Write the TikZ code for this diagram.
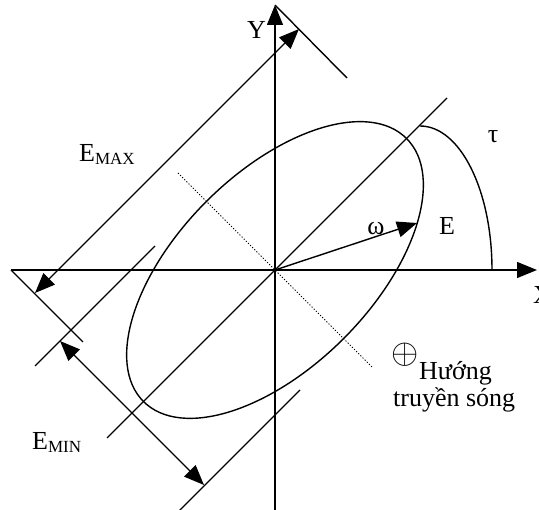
\documentclass[tikz,border=0pt]{standalone}
\usepackage{fontspec}
\usepackage{graphicx}
\setmainfont{Liberation Serif}
\usetikzlibrary{arrows.meta}
\begin{document}
\begin{tikzpicture}[x=1pt,y=-1pt,
  ln/.style={line width=1.4pt},
  arr/.style={ln,-{Triangle[length=20pt,width=16pt]}},
  darr/.style={ln,{Triangle[length=20pt,width=16pt]}-{Triangle[length=20pt,width=16pt]}},
  dot/.style={line width=0.8pt,dash pattern=on 1.2pt off 1.8pt},
  lbl/.style={inner sep=0pt,font=\fontsize{26}{30}\selectfont}]
\useasboundingbox (0,0) rectangle (539,510);
% key points
\coordinate (O) at (275,270);
\coordinate (Ytop) at (275,5);
\coordinate (Ybot) at (275,512);
\coordinate (Xl) at (11,270);
\coordinate (Xr) at (537,270);
\coordinate (M1) at (107,438);
\coordinate (M2) at (447,98);
\coordinate (D1) at (178,173);
\coordinate (D2) at (372,367);
\coordinate (P1) at (347,78);
\coordinate (P2) at (83,342);
\coordinate (A1) at (299,29);
\coordinate (A2) at (35,293);
\coordinate (L1a) at (155,246);
\coordinate (L1b) at (35,366);
\coordinate (L2a) at (300,390);
\coordinate (L2b) at (178,512);
\coordinate (B1) at (60,341);
\coordinate (B2) at (204,485);
\coordinate (W) at (417,223);
\coordinate (T1) at (420,126);
\coordinate (T2) at (492,270);
% axes
\draw[arr] (Ybot) -- (Ytop);
\draw[arr] (Xl) -- (Xr);
% major axis line and dotted minor axis
\draw[ln] (M1) -- (M2);
\draw[dot] (D1) -- (D2);
% ellipse
\draw[ln,rotate around={45:(O)}] (O) ellipse [x radius=186, y radius=97];
% E_MAX bounds and arrow
\draw[ln] (Ytop) -- (P1);
\draw[ln] (Xl) -- (P2);
\draw[darr] (A2) -- (A1);
% E_MIN bounds and arrow
\draw[ln] (L1a) -- (L1b);
\draw[ln] (L2a) -- (L2b);
\draw[darr] (B1) -- (B2);
% omega vector
\draw[arr] (O) -- (W);
% tau arc
\draw[ln] (T1) .. controls (460,126) and (492,190) .. (T2);
% labels
\node[lbl,anchor=base west] (emax) at (79,162) {E{\fontsize{17}{17}\selectfont\raisebox{-3pt}{MAX}}};
\node[lbl,anchor=base west] (emin) at (32,450) {E{\fontsize{17}{17}\selectfont\raisebox{-3pt}{MIN}}};
\node[lbl,anchor=base] (tau) at (493,143) {τ};
\node[lbl,anchor=base west] (E) at (439,235) {E};
\node[lbl,anchor=base] (om) at (376,235) {ω};
\node[lbl,anchor=base west] (ylab) at (247,39) {Y};
\node[lbl,anchor=base west] (xlab) at (533,304) {X};
\node[inner sep=0pt,font=\fontsize{10}{12}\selectfont] (op) at (405.5,354.5) {\scalebox{3.5}{$\oplus$}};
\node[lbl,anchor=base west] (h1) at (419,380) {Hướng};
\node[lbl,anchor=base west] (h2) at (393,407) {truyền sóng};
\end{tikzpicture}
\end{document}
